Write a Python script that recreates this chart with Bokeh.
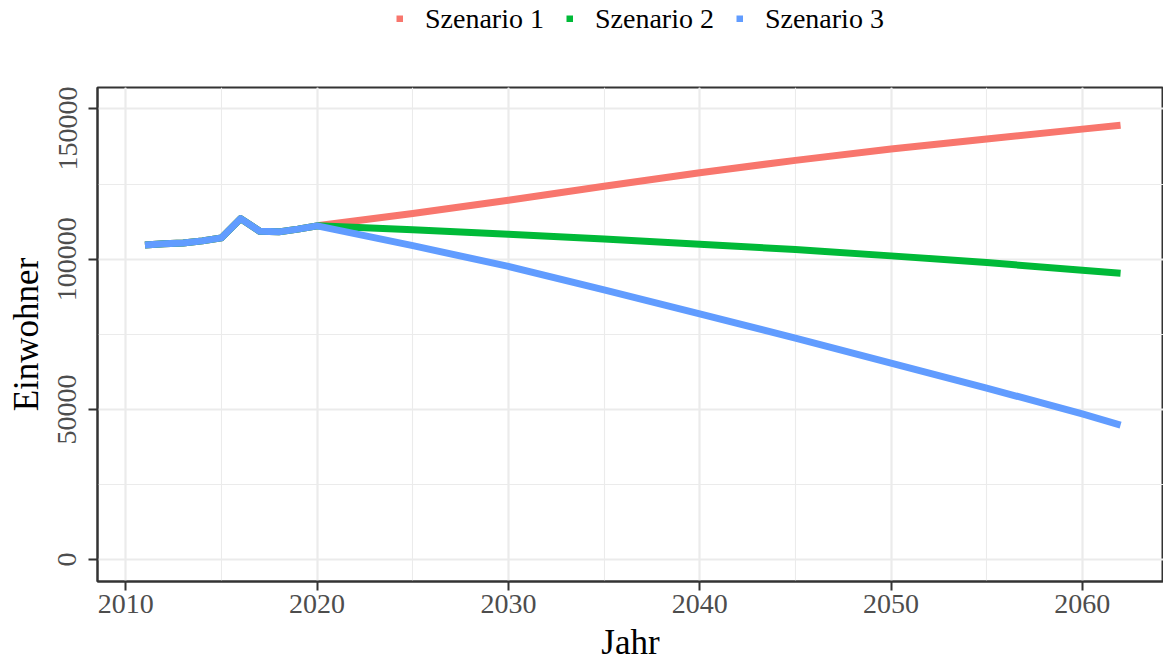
from bokeh.plotting import figure
from bokeh.models import (Range1d, SingleIntervalTicker, Legend, LegendItem,
                          BasicTickFormatter)
from bokeh.layouts import column
from bokeh.embed import file_html
from bokeh.resources import INLINE

# ---- data ----
hist_years = [2011, 2012, 2013, 2014, 2015, 2016, 2017, 2018, 2019, 2020]
hist_values = [104700, 105100, 105400, 106100, 107100, 113500, 109300, 109100, 110000, 111100]

proj_years = [2025, 2030, 2035, 2040, 2045, 2050, 2055, 2060, 2062]
s1_proj = [115200, 119600, 124300, 128800, 132900, 136700, 140000, 143300, 144600]
s2_proj = [109800, 108300, 106700, 105000, 103200, 101100, 98900, 96300, 95300]
s3_proj = [104500, 97600, 89800, 81800, 73700, 65400, 57100, 48500, 44800]

series_names = ["Szenario 1", "Szenario 2", "Szenario 3"]
series_colors = ["#F8766D", "#00BA38", "#619CFF"]
series_proj = [s1_proj, s2_proj, s3_proj]

x_label = "Jahr"
y_label = "Einwohner"

FONT = "Liberation Serif"

W, H = 1163, 664
LEG_H = 86
left, top, bottom = 97, 1, 81
px_per_year = 19.13
x0 = 2008.52
x1 = x0 + (W - left) / px_per_year

# ---- legend strip (above the panel); its ranges keep the series out of view ----
lf = figure(width=W, height=LEG_H, output_backend="svg", toolbar_location=None,
            x_range=Range1d(0, 1), y_range=Range1d(0, 1),
            x_axis_type=None, y_axis_type=None,
            min_border_left=0, min_border_right=0, min_border_top=0, min_border_bottom=0)
lf.outline_line_color = None
lf.grid.visible = False
lf.background_fill_color = "white"
lf.border_fill_color = "white"

leg_renderers = [lf.line(hist_years + proj_years, hist_values + proj, line_color=c, line_width=7)
                 for c, proj in zip(series_colors, series_proj)]
legend = Legend(items=[LegendItem(label=n, renderers=[r]) for n, r in zip(series_names, leg_renderers)],
                orientation="horizontal", location=(299, LEG_H - 34.5),
                padding=0, margin=0, spacing=22, label_standoff=22,
                glyph_width=7, glyph_height=7,
                label_text_font=FONT, label_text_font_size="28px", label_text_color="black",
                border_line_color=None, background_fill_alpha=0)
lf.add_layout(legend, "center")

# ---- main panel ----
p = figure(width=W, height=H - LEG_H, output_backend="svg", toolbar_location=None,
           x_range=Range1d(x0, x1), y_range=Range1d(-7290, 157150),
           min_border_left=left, min_border_right=0, min_border_top=top,
           min_border_bottom=bottom, x_axis_label=x_label, y_axis_label=y_label)

p.background_fill_color = "white"
p.border_fill_color = "white"
p.outline_line_color = "#333333"
p.outline_line_width = 2

for name, col, proj in zip(series_names, series_colors, series_proj):
    xs = hist_years + proj_years
    ys = hist_values + proj
    p.line(xs, ys, line_color=col, line_width=7, line_join="round", line_cap="butt")

# ticks / grid
p.xaxis.ticker = SingleIntervalTicker(interval=10, num_minor_ticks=2)
p.yaxis.ticker = SingleIntervalTicker(interval=50000, num_minor_ticks=2)
p.yaxis.formatter = BasicTickFormatter(use_scientific=False)

for g in (p.xgrid, p.ygrid):
    g.grid_line_color = "#EBEBEB"
    g.grid_line_width = 2.2
    g.minor_grid_line_color = "#EBEBEB"
    g.minor_grid_line_width = 1.1
    g.level = "underlay"

for ax in (p.xaxis, p.yaxis):
    ax.axis_line_color = "#333333"
    ax.axis_line_width = 2
    ax.major_tick_line_color = "#333333"
    ax.major_tick_line_width = 2
    ax.major_tick_out = 9
    ax.major_tick_in = 0
    ax.minor_tick_line_color = None
    ax.major_label_text_font = FONT
    ax.major_label_text_font_size = "28px"
    ax.major_label_text_color = "#4D4D4D"
    ax.axis_label_text_font = FONT
    ax.axis_label_text_font_size = "35px"
    ax.axis_label_text_font_style = "normal"
    ax.axis_label_text_color = "black"

p.yaxis.major_label_orientation = "vertical"
p.yaxis.major_label_standoff = 12
p.yaxis.axis_label_standoff = 10
p.xaxis.major_label_standoff = 4
p.xaxis.axis_label_standoff = 7

layout = column(lf, p, spacing=0)
open("out.html", "w").write(file_html(layout, INLINE))
